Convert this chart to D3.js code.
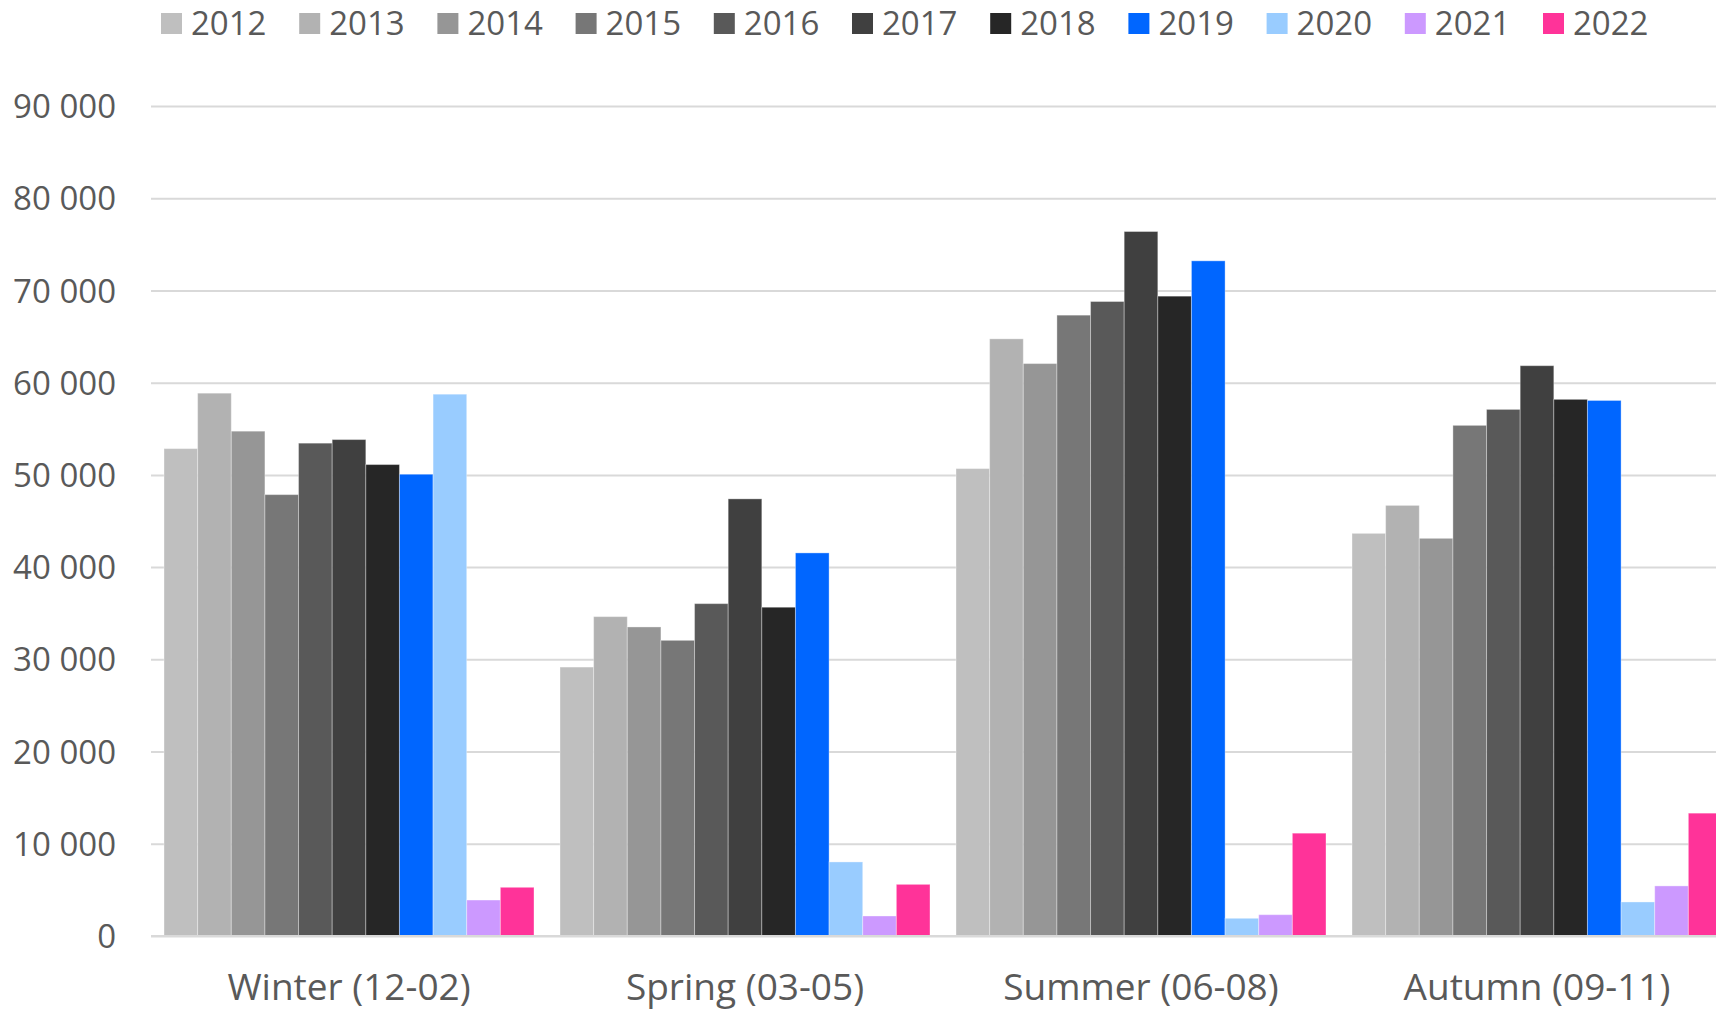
<!DOCTYPE html>
<html>
<head>
<meta charset="utf-8">
<script src="https://cdn.jsdelivr.net/npm/d3@7/dist/d3.min.js"></script>
<style>
  html, body { margin: 0; padding: 0; background: #fff; overflow: hidden; }
  svg { display: block; }
  text { font-family: "Open Sans", "Noto Sans", sans-serif; fill: #595959; }
</style>
</head>
<body>
<svg id="chart" width="1716" height="1012"></svg>
<script>
const seasons = ["Winter (12-02)", "Spring (03-05)", "Summer (06-08)", "Autumn (09-11)"];
const years = ["2012","2013","2014","2015","2016","2017","2018","2019","2020","2021","2022"];
const colors = ["#bfbfbf","#b2b2b2","#969696","#777777","#595959","#404040","#262626","#0066ff","#99ccff","#cc99ff","#ff3399"];
// values per year, in season order: Winter, Spring, Summer, Autumn
const v2012 = [52850, 29160, 50680, 43660];
const v2013 = [58860, 34630, 64750, 46690];
const v2014 = [54740, 33510, 62070, 43120];
const v2015 = [47860, 32060, 67320, 55370];
const v2016 = [53440, 36040, 68800, 57100];
const v2017 = [53830, 47400, 76390, 61840];
const v2018 = [51120, 35650, 69380, 58190];
const v2019 = [50070, 41540, 73210, 58070];
const v2020 = [58750, 8030, 1920, 3690];
const v2021 = [3900, 2170, 2310, 5430];
const v2022 = [5280, 5600, 11150, 13320];
const yTicks = [0, 10000, 20000, 30000, 40000, 50000, 60000, 70000, 80000, 90000];

const series = [v2012, v2013, v2014, v2015, v2016, v2017, v2018, v2019, v2020, v2021, v2022];

const svg = d3.select("#chart");
const mLeft = 151, mRight = 1735, mTop = 106, mBottom = 936;

const y = d3.scaleLinear().domain([0, 90000]).range([mBottom, mTop]);
const x0 = d3.scaleBand().domain(seasons).range([mLeft, mRight]).paddingInner(0.0657).paddingOuter(0.0657/2);
const x1 = d3.scaleBand().domain(years).range([0, x0.bandwidth()]).padding(0);
const fmt = v => d3.format(",")(v).replace(/,/g, " ");

// gridlines
const grid = svg.append("g")
  .attr("transform", `translate(${mLeft},0)`)
  .call(d3.axisLeft(y).tickValues(yTicks).tickSize(-(mRight - mLeft)).tickFormat(""));
grid.select(".domain").remove();
grid.selectAll(".tick line").attr("stroke", "#d9d9d9").attr("stroke-width", 2);

// bars
const groups = svg.append("g").selectAll("g")
  .data(seasons)
  .join("g")
  .attr("transform", d => `translate(${x0(d)},0)`);

groups.selectAll("rect")
  .data((s, si) => years.map((yr, yi) => ({ yr, yi, v: series[yi][si] })))
  .join("rect")
  .attr("x", d => x1(d.yr))
  .attr("width", x1.bandwidth())
  .attr("y", d => y(d.v))
  .attr("height", d => y(0) - y(d.v))
  .attr("fill", d => colors[d.yi])
  .attr("stroke", "rgba(255,255,255,0.35)")
  .attr("stroke-width", 1);

// baseline
svg.append("line")
  .attr("x1", mLeft).attr("x2", mRight)
  .attr("y1", y(0)).attr("y2", y(0))
  .attr("stroke", "#d9d9d9").attr("stroke-width", 2);

// y-axis labels
const yAxis = svg.append("g")
  .attr("transform", `translate(116,0)`)
  .call(d3.axisLeft(y).tickValues(yTicks).tickSize(0).tickPadding(0).tickFormat(fmt));
yAxis.select(".domain").remove();
yAxis.selectAll("text")
  .attr("font-size", 33)
  .attr("font-family", "'Open Sans', sans-serif")
  .attr("fill", "#595959")
  .attr("dy", "0.35em");

// x-axis labels
const xAxis = svg.append("g")
  .attr("transform", `translate(0,${mBottom})`)
  .call(d3.axisBottom(x0).tickSize(0).tickPadding(0));
xAxis.select(".domain").remove();
xAxis.selectAll("text")
  .attr("font-size", 37)
  .attr("font-family", "'Open Sans', sans-serif")
  .attr("fill", "#595959")
  .attr("dy", null)
  .attr("y", 64);

// legend
const legend = svg.append("g");
const items = legend.selectAll("g")
  .data(years)
  .join("g")
  .attr("transform", (d, i) => `translate(${161 + i * 138.2},0)`);
items.append("rect")
  .attr("x", 0).attr("y", 13).attr("width", 21).attr("height", 21)
  .attr("fill", (d, i) => colors[i]);
items.append("text")
  .attr("x", 30).attr("y", 35)
  .attr("font-size", 33)
  .text(d => d);
</script>
</body>
</html>
